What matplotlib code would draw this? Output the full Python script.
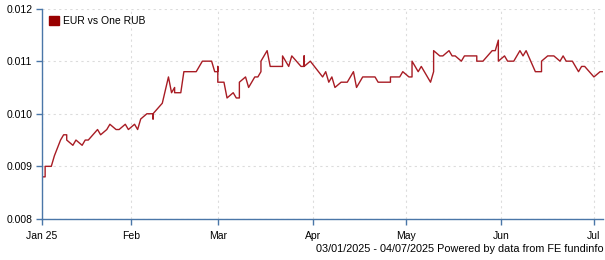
import pandas as pd
import matplotlib
matplotlib.use("Agg")
import matplotlib.pyplot as plt
from matplotlib.patches import Patch

# DATA
dates = ["2025-01-03", "2025-01-04", "2025-01-04", "2025-01-06", "2025-01-07", "2025-01-09",
         "2025-01-10", "2025-01-11", "2025-01-11", "2025-01-13", "2025-01-14", "2025-01-16",
         "2025-01-17", "2025-01-18", "2025-01-21", "2025-01-22", "2025-01-24", "2025-01-25",
         "2025-01-27", "2025-01-28", "2025-01-30", "2025-01-31", "2025-02-02", "2025-02-03",
         "2025-02-04", "2025-02-06", "2025-02-08", "2025-02-08", "2025-02-08", "2025-02-11",
         "2025-02-13", "2025-02-14", "2025-02-15", "2025-02-15", "2025-02-17", "2025-02-18",
         "2025-02-22", "2025-02-23", "2025-02-24", "2025-02-27", "2025-02-28", "2025-03-01",
         "2025-03-01", "2025-03-01", "2025-03-03", "2025-03-04", "2025-03-06", "2025-03-07",
         "2025-03-08", "2025-03-08", "2025-03-10", "2025-03-11", "2025-03-13", "2025-03-14",
         "2025-03-15", "2025-03-15", "2025-03-17", "2025-03-18", "2025-03-22", "2025-03-22",
         "2025-03-24", "2025-03-25", "2025-03-28", "2025-03-29", "2025-03-29", "2025-03-29",
         "2025-03-31", "2025-04-04", "2025-04-05", "2025-04-06", "2025-04-07", "2025-04-08",
         "2025-04-10", "2025-04-12", "2025-04-13", "2025-04-14", "2025-04-15", "2025-04-17",
         "2025-04-21", "2025-04-22", "2025-04-26", "2025-04-26", "2025-04-28", "2025-04-29",
         "2025-04-30", "2025-05-02", "2025-05-03", "2025-05-03", "2025-05-05", "2025-05-06",
         "2025-05-07", "2025-05-09", "2025-05-10", "2025-05-10", "2025-05-12", "2025-05-13",
         "2025-05-15", "2025-05-16", "2025-05-17", "2025-05-19", "2025-05-20", "2025-05-24",
         "2025-05-24", "2025-05-26", "2025-05-29", "2025-05-30", "2025-05-31", "2025-05-31",
         "2025-06-02", "2025-06-03", "2025-06-05", "2025-06-07", "2025-06-08", "2025-06-09",
         "2025-06-12", "2025-06-13", "2025-06-14", "2025-06-14", "2025-06-16", "2025-06-18",
         "2025-06-20", "2025-06-21", "2025-06-22", "2025-06-24", "2025-06-26", "2025-06-27",
         "2025-06-28", "2025-07-01", "2025-07-03", "2025-07-04"]

rate = [0.0088, 0.0088, 0.0090, 0.0090, 0.0092, 0.0095,
        0.0096, 0.0096, 0.0095, 0.0094, 0.0095, 0.0094,
        0.0095, 0.0095, 0.0097, 0.0096, 0.0097, 0.0098,
        0.0097, 0.0097, 0.0098, 0.0097, 0.0098, 0.0097,
        0.0099, 0.0100, 0.0100, 0.0099, 0.0100, 0.0102,
        0.0107, 0.0104, 0.0105, 0.0104, 0.0104, 0.0108,
        0.0108, 0.0109, 0.0110, 0.0110, 0.0108, 0.0108,
        0.0109, 0.0106, 0.0106, 0.0103, 0.0104, 0.0103,
        0.0103, 0.0106, 0.0107, 0.0105, 0.0107, 0.0107,
        0.0108, 0.0110, 0.0112, 0.0109, 0.0109, 0.0111,
        0.0109, 0.0111, 0.0109, 0.0109, 0.0111, 0.0109,
        0.0110, 0.0107, 0.0108, 0.0106, 0.0107, 0.0105,
        0.0106, 0.0106, 0.0107, 0.0108, 0.0105, 0.0107,
        0.0107, 0.0106, 0.0106, 0.0107, 0.0107, 0.0107,
        0.0108, 0.0107, 0.0107, 0.0110, 0.0108, 0.0109,
        0.0108, 0.0106, 0.0108, 0.0112, 0.0111, 0.0111,
        0.0112, 0.0111, 0.0111, 0.0110, 0.0111, 0.0111,
        0.0110, 0.0110, 0.0112, 0.0112, 0.0114, 0.0110,
        0.0111, 0.0110, 0.0110, 0.0112, 0.0111, 0.0112,
        0.0108, 0.0108, 0.0108, 0.0110, 0.0111, 0.0111,
        0.0110, 0.0111, 0.0110, 0.0110, 0.0108, 0.0109,
        0.0109, 0.0107, 0.0108, 0.0108]

month_ticks = ["2025-01-03", "2025-02-01", "2025-03-01", "2025-04-01", "2025-05-01", "2025-06-01", "2025-07-01"]
month_labels = ["Jan 25", "Feb", "Mar", "Apr", "May", "Jun", "Jul"]
y_ticks = [0.008, 0.009, 0.010, 0.011, 0.012]

series_name = "EUR vs One RUB"
footer = "03/01/2025 - 04/07/2025 Powered by data from FE fundinfo"

# STYLE
plt.rcParams['font.family'] = ['Liberation Sans', 'DejaVu Sans']
plt.rcParams['font.size'] = 7.5
line_color = "#a81c24"
axis_color = "#4a76a8"
grid_color = "#dcdcdc"

x = pd.to_datetime(dates)

fig = plt.figure(figsize=(6.05, 2.6), dpi=100)
ax = fig.add_axes([0.0695, 0.158, 0.9275, 0.809])

ax.plot(x, rate, color=line_color, linewidth=1.0)

ax.set_xlim(pd.Timestamp("2025-01-03"), pd.Timestamp("2025-07-04"))
ax.set_ylim(0.008, 0.012)
ax.set_yticks(y_ticks)
ax.set_yticklabels([f"{v:.3f}" for v in y_ticks])
ax.set_xticks(pd.to_datetime(month_ticks))
ax.set_xticklabels(month_labels)

ax.grid(True, color=grid_color, linestyle=(0, (2, 3)), linewidth=0.8)
ax.set_axisbelow(True)

for side in ["top", "right"]:
    ax.spines[side].set_visible(False)
for side in ["left", "bottom"]:
    ax.spines[side].set_color(axis_color)
    ax.spines[side].set_linewidth(1.0)
ax.tick_params(axis="both", colors=axis_color, labelcolor="black", length=4, width=1, direction="out", pad=3)
ax.tick_params(axis="x", pad=4.5)

# legend uses a filled square like the reference
ax.legend(handles=[Patch(facecolor="#990000", edgecolor="#990000", label=series_name)],
          loc="upper left", frameon=False, handlelength=0.9, handleheight=0.9,
          borderaxespad=0.3, handletextpad=0.4, fontsize=7.5)

fig.text(0.997, 0.022, footer, ha="right", va="bottom", fontsize=7.8)

fig.savefig("out.png", dpi=100)
